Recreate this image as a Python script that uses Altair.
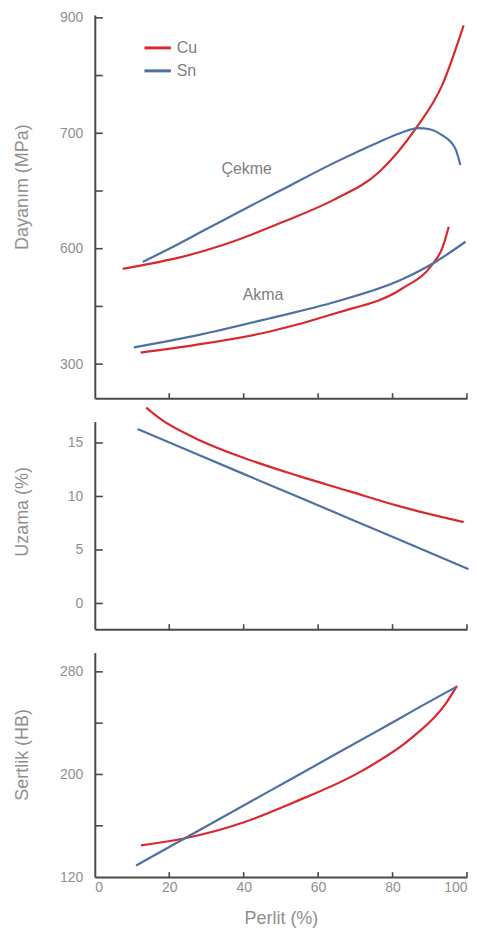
import altair as alt
import pandas as pd

# ---------------- data ----------------
SERIES = ["Cu", "Sn"]
COLORS = ["#d8292f", "#4f70a4"]

# Dayanım (MPa): Çekme curves
cekme_cu_x = [7.5, 13.3, 22.3, 35.6, 50.8, 64.3, 76.4, 86.2, 93.3, 99.1]
cekme_cu_y = [465, 472, 484, 509, 547, 585, 633, 708, 783, 887]
cekme_sn_x = [12.9, 20, 30, 40, 50.8, 64.7, 76.4, 82, 86.8, 90, 93.3, 96.9, 98.2]
cekme_sn_y = [477, 500, 534, 568, 604, 650, 685, 700, 709, 707, 697, 673, 645]

# Dayanım (MPa): Akma curves
akma_cu_x = [12.3, 26.8, 46.8, 64.7, 82.6, 90.6, 93.3, 95.1]
akma_cu_y = [320, 333, 356, 388, 431, 472, 500, 538]
akma_sn_x = [10.5, 26.8, 46.8, 64.7, 82.6, 91.5, 99.6]
akma_sn_y = [329, 349, 379, 408, 447, 477, 512]

# Uzama (%)
uzama_cu_x = [13.8, 17.8, 26.7, 40.1, 54.9, 68.3, 81.7, 99.1]
uzama_cu_y = [18.3, 17.2, 15.5, 13.6, 11.9, 10.5, 9.1, 7.6]
uzama_sn_x = [11.5, 26.7, 40.1, 54.9, 68.3, 81.7, 100.4]
uzama_sn_y = [16.3, 14.06, 12.09, 9.92, 7.95, 5.98, 3.2]

# Sertlik (HB)
sertlik_cu_x = [12.4, 23.6, 40.1, 53.5, 71.9, 85.3, 94.2, 97.3]
sertlik_cu_y = [144.7, 149.9, 162.8, 178.3, 203.0, 228.9, 254.9, 269.1]
sertlik_sn_x = [11.1, 23.6, 40.1, 53.5, 76.3, 94.2, 96.9]
sertlik_sn_y = [129.1, 149.3, 176.0, 197.7, 234.6, 263.6, 267.8]

# annotations in the top panel
note_text = ["Çekme", "Akma"]
note_x = [40.8, 45.2]
note_y = [638, 420]

# axis ticks / labels
x_labels = [0, 20, 40, 60, 80, 100]
x_ticks = [20, 40, 60, 80, 100]
top_labels = [300, 500, 700, 900]
top_ticks = [300, 400, 500, 600, 700, 800, 900]
mid_labels = [0, 5, 10, 15]
bot_labels = [120, 200, 280]
bot_ticks = [160, 200, 240, 280]


def curve(xs, ys, alloy, name):
    return pd.DataFrame({"perlit": xs, "value": ys, "alloy": alloy, "curve": name})


top_df = pd.concat([
    curve(cekme_cu_x, cekme_cu_y, "Cu", "Çekme"),
    curve(cekme_sn_x, cekme_sn_y, "Sn", "Çekme"),
    curve(akma_cu_x, akma_cu_y, "Cu", "Akma"),
    curve(akma_sn_x, akma_sn_y, "Sn", "Akma"),
])
mid_df = pd.concat([
    curve(uzama_cu_x, uzama_cu_y, "Cu", "Uzama"),
    curve(uzama_sn_x, uzama_sn_y, "Sn", "Uzama"),
])
bot_df = pd.concat([
    curve(sertlik_cu_x, sertlik_cu_y, "Cu", "Sertlik"),
    curve(sertlik_sn_x, sertlik_sn_y, "Sn", "Sertlik"),
])
notes_df = pd.DataFrame({"text": note_text, "perlit": note_x, "value": note_y})

# ---------------- styling ----------------
W = 373
H1, H2, H3 = 384, 208, 225
AX = "#4a4a4a"
TXT = "#8f8f8f"
FONT = "Liberation Sans"

xscale = alt.Scale(domain=[0, 100], nice=False, zero=False)
color_scale = alt.Scale(domain=SERIES, range=COLORS)


def y_axis(title, values, title_y, label_expr=None):
    kw = dict(title=title, values=values, ticks=False, grid=False,
              labelPadding=12, minExtent=46, maxExtent=46, titlePadding=17,
              titleY=title_y)
    if label_expr:
        kw["labelExpr"] = label_expr
    return alt.Axis(**kw)


x_hidden = alt.Axis(title=None, labels=False, ticks=False, grid=False,
                    minExtent=0, maxExtent=0)
x_bottom = alt.Axis(title="Perlit (%)", values=x_labels, ticks=False, grid=False,
                    labelPadding=3, minExtent=17, maxExtent=17, titlePadding=15)


def panel(df, height, ydomain, yaxis, xaxis, ytick_vals, legend=None, notes=None):
    yscale = alt.Scale(domain=ydomain, nice=False, zero=False)
    lines = alt.Chart(df).mark_line(strokeWidth=2.2, interpolate="monotone").encode(
        x=alt.X("perlit:Q", scale=xscale, axis=xaxis),
        y=alt.Y("value:Q", scale=yscale, axis=yaxis),
        color=alt.Color("alloy:N", scale=color_scale, legend=legend),
        detail="curve:N",
    )
    yt = alt.Chart(pd.DataFrame({"value": ytick_vals})).mark_rule(
        color=AX, strokeWidth=1.6).encode(
        y=alt.Y("value:Q", scale=yscale, axis=yaxis),
        x=alt.value(0), x2=alt.value(8),
    )
    xt = alt.Chart(pd.DataFrame({"perlit": x_ticks})).mark_rule(
        color=AX, strokeWidth=1.6).encode(
        x=alt.X("perlit:Q", scale=xscale, axis=xaxis),
        y=alt.value(height), y2=alt.value(height - 5),
    )
    layers = [lines, yt, xt]
    if notes is not None:
        txt = alt.Chart(notes).mark_text(font=FONT, fontSize=16, color="#808080").encode(
            x=alt.X("perlit:Q", scale=xscale, axis=xaxis),
            y=alt.Y("value:Q", scale=yscale, axis=yaxis),
            text="text:N",
        )
        layers.append(txt)
    return alt.layer(*layers).properties(width=W, height=height)


legend = alt.Legend(
    title=None, orient="none", legendX=48, legendY=18,
    symbolType="stroke", symbolStrokeWidth=3, symbolSize=700,
    labelFont=FONT, labelFontSize=16, labelColor="#808080",
    labelOffset=4, rowPadding=-4,
)

top = panel(top_df, H1, [241, 905],
            y_axis("Dayanım (MPa)", top_labels, 172,
                   "datum.value == 500 ? '600' : datum.label"),
            x_hidden, top_ticks, legend=legend, notes=notes_df)
mid = panel(mid_df, H2, [-2.4, 17], y_axis("Uzama (%)", mid_labels, 90),
            x_hidden, mid_labels)
bot = panel(bot_df, H3, [120, 295], y_axis("Sertlik (HB)", bot_labels, 102),
            x_bottom, bot_ticks)

chart = alt.vconcat(top, mid, bot, spacing=23.5, bounds="flush").resolve_legend(
    color="independent"
).properties(
    padding={"left": 6, "top": 1, "right": -4, "bottom": 0}
).configure_view(stroke=None).configure_axis(
    labelFont=FONT, labelFontSize=14, labelColor=TXT,
    titleFont=FONT, titleFontSize=18, titleColor=TXT, titleFontWeight="normal",
    domainColor=AX, domainWidth=2,
)

chart.save("out.html", embed_options={"renderer": "svg", "actions": False})
